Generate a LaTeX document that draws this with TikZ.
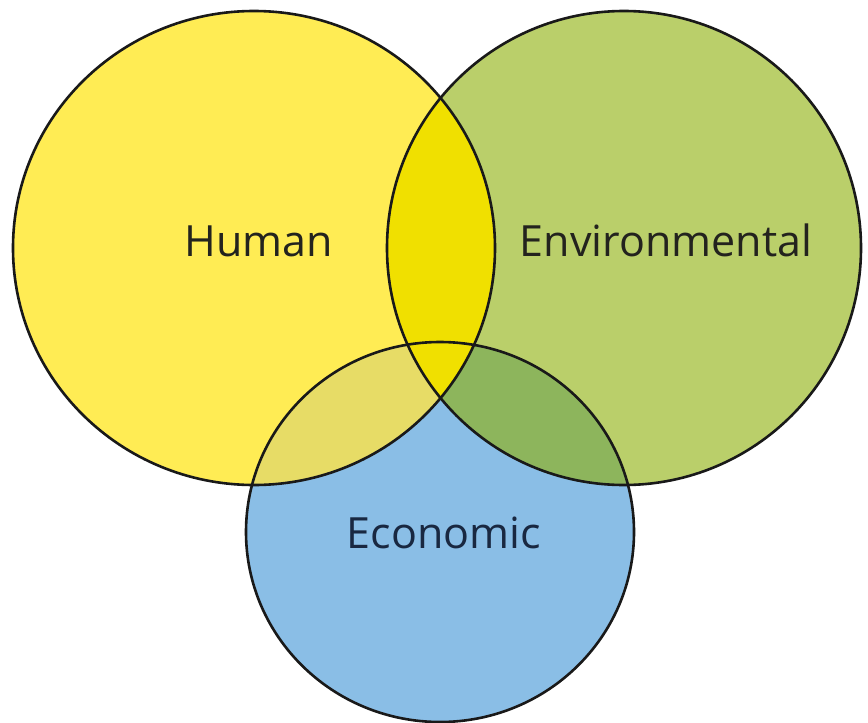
\documentclass[tikz,border=0pt]{standalone}
\usepackage{fontspec}
\setmainfont{Open Sans}
\definecolor{humanY}{RGB}{255,236,84}
\definecolor{envG}{RGB}{186,207,106}
\definecolor{econB}{RGB}{138,190,230}
\definecolor{hxe}{RGB}{240,224,0}
\definecolor{hxc}{RGB}{231,220,102}
\definecolor{exc}{RGB}{141,181,92}
\definecolor{txt}{RGB}{35,35,30}
\tikzset{
  ring/.style={draw=black!90, line width=2.6pt},
  lbl/.style={font=\fontsize{43}{50}\selectfont, text=txt, inner sep=0pt, anchor=base}
}
\begin{document}
\begin{tikzpicture}[x=1pt,y=-1pt]
\useasboundingbox (0,0) rectangle (868,723);
\fill[white] (0,0) rectangle (868,723);
\coordinate (H) at (254,248);
\coordinate (E) at (624,248);
\coordinate (C) at (440,532);
\def\hum{(H) ellipse [x radius=241, y radius=237]}
\def\env{(E) ellipse [x radius=237, y radius=237]}
\def\eco{(C) ellipse [x radius=194, y radius=190]}
\fill[humanY] \hum;
\fill[envG] \env;
\fill[econB] \eco;
\begin{scope}
  \clip \hum;
  \fill[hxc] \eco;
\end{scope}
\begin{scope}
  \clip \env;
  \fill[exc] \eco;
\end{scope}
\begin{scope}
  \clip \hum;
  \fill[hxe] \env;
\end{scope}
\draw[ring] \hum;
\draw[ring] \env;
\draw[ring] \eco;
\node[lbl] (human) at (259,256) {Human};
\node[lbl] (environmental) at (666,256) {Environmental};
\node[lbl, text={rgb,255:red,25;green,40;blue,65}] (economic) at (444,548) {Economic};
\end{tikzpicture}
\end{document}
